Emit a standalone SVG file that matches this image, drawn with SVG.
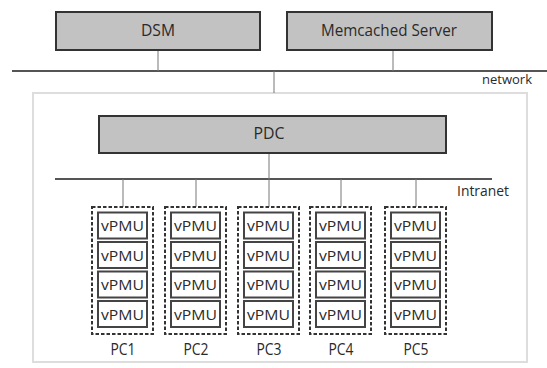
<svg xmlns="http://www.w3.org/2000/svg" width="547" height="368" viewBox="0 0 547 368">
<style>
text{font-family:"Open Sans","Liberation Sans",sans-serif;fill:#2a2a2a;}
.srv{fill:#c2c2c2;stroke:#333;stroke-width:2;}
.lbl{font-size:16px;text-anchor:middle;}
.pc{fill:none;stroke:#333;stroke-width:2;stroke-dasharray:3.5 2;}
.vp{fill:#fff;stroke:#444;stroke-width:2;}
.vt{font-size:15px;}
.pcl{font-size:16px;}
.wire{stroke:#777;stroke-width:1;fill:none;}
.bus{stroke:#555;stroke-width:2;fill:none;}
</style>
<defs>
<g id="vpmu">
<rect class="vp" x="0" y="0" width="49" height="26"/>
<text class="vt" x="3" y="18.5" textLength="43" lengthAdjust="spacingAndGlyphs">vPMU</text>
</g>
</defs>
<rect width="547" height="368" fill="#fff"/>
<g id="cluster">
<rect x="33" y="93" width="494" height="269" fill="#fff" stroke="#ddd" stroke-width="2"/>
</g>
<g id="connectors">
<line class="bus" x1="12" y1="71" x2="547" y2="71"/>
<line class="wire" x1="158" y1="50" x2="158" y2="71"/>
<line class="wire" x1="393" y1="50" x2="393" y2="71"/>
<line class="wire" x1="274" y1="71" x2="274" y2="93"/>
<line class="bus" x1="55" y1="179" x2="492" y2="179"/>
<line class="wire" x1="269" y1="153" x2="269" y2="179"/>
<line class="wire" x1="123" y1="179" x2="123" y2="207"/>
<line class="wire" x1="196" y1="179" x2="196" y2="207"/>
<line class="wire" x1="269" y1="179" x2="269" y2="207"/>
<line class="wire" x1="341" y1="179" x2="341" y2="207"/>
<line class="wire" x1="416" y1="179" x2="416" y2="207"/>
</g>
<text x="482" y="84" font-size="13" textLength="50" lengthAdjust="spacingAndGlyphs">network</text>
<text x="457" y="196" font-size="14" textLength="52" lengthAdjust="spacingAndGlyphs">Intranet</text>
<g id="dsm">
<rect class="srv" x="56" y="12" width="204" height="38"/>
<text class="lbl" x="158" y="36" textLength="34" lengthAdjust="spacingAndGlyphs">DSM</text>
</g>
<g id="memcached">
<rect class="srv" x="287" y="12" width="205" height="38"/>
<text class="lbl" x="389" y="36" textLength="136" lengthAdjust="spacingAndGlyphs">Memcached Server</text>
</g>
<g id="pdc">
<rect class="srv" x="99" y="116" width="347" height="37"/>
<text class="lbl" x="269" y="139" font-size="17" textLength="31" lengthAdjust="spacingAndGlyphs">PDC</text>
</g>
<g id="pc1">
<rect class="pc" x="92" y="207" width="61" height="127"/>
<use href="#vpmu" x="98" y="212.5"/><use href="#vpmu" x="98" y="242"/><use href="#vpmu" x="98" y="271.5"/><use href="#vpmu" x="98" y="301"/>
<text class="pcl" x="123" y="355" text-anchor="middle" textLength="25" lengthAdjust="spacingAndGlyphs">PC1</text>
</g>
<g id="pc2">
<rect class="pc" x="165" y="207" width="61" height="127"/>
<use href="#vpmu" x="171" y="212.5"/><use href="#vpmu" x="171" y="242"/><use href="#vpmu" x="171" y="271.5"/><use href="#vpmu" x="171" y="301"/>
<text class="pcl" x="196" y="355" text-anchor="middle" textLength="25" lengthAdjust="spacingAndGlyphs">PC2</text>
</g>
<g id="pc3">
<rect class="pc" x="238" y="207" width="61" height="127"/>
<use href="#vpmu" x="244" y="212.5"/><use href="#vpmu" x="244" y="242"/><use href="#vpmu" x="244" y="271.5"/><use href="#vpmu" x="244" y="301"/>
<text class="pcl" x="269" y="355" text-anchor="middle" textLength="25" lengthAdjust="spacingAndGlyphs">PC3</text>
</g>
<g id="pc4">
<rect class="pc" x="310" y="207" width="61" height="127"/>
<use href="#vpmu" x="316" y="212.5"/><use href="#vpmu" x="316" y="242"/><use href="#vpmu" x="316" y="271.5"/><use href="#vpmu" x="316" y="301"/>
<text class="pcl" x="341" y="355" text-anchor="middle" textLength="25" lengthAdjust="spacingAndGlyphs">PC4</text>
</g>
<g id="pc5">
<rect class="pc" x="385" y="207" width="61" height="127"/>
<use href="#vpmu" x="391" y="212.5"/><use href="#vpmu" x="391" y="242"/><use href="#vpmu" x="391" y="271.5"/><use href="#vpmu" x="391" y="301"/>
<text class="pcl" x="416" y="355" text-anchor="middle" textLength="25" lengthAdjust="spacingAndGlyphs">PC5</text>
</g>
</svg>
